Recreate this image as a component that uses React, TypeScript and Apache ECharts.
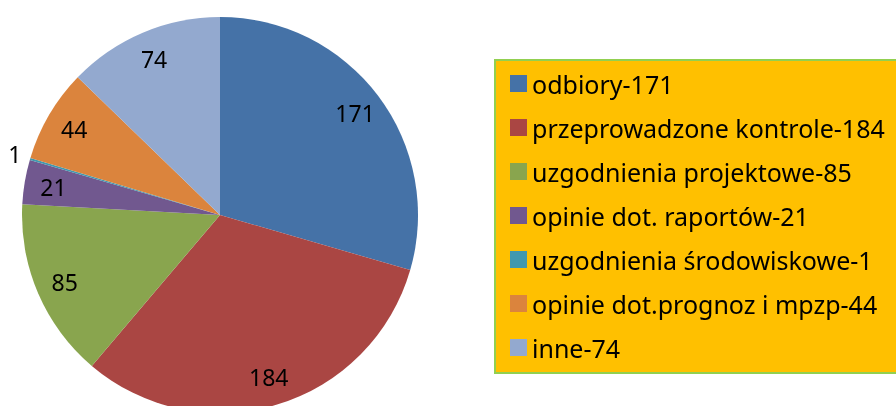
import React, { useEffect, useRef } from "react";
import * as echarts from "echarts";

const categories = [
  "odbiory",
  "przeprowadzone kontrole",
  "uzgodnienia projektowe",
  "opinie dot. raportów",
  "uzgodnienia środowiskowe",
  "opinie dot.prognoz i mpzp",
  "inne",
];
const values = [171, 184, 85, 21, 1, 44, 74];
const colors = ["#4572A7", "#AA4643", "#89A54E", "#71588F", "#4198AF", "#DB843D", "#93A9CF"];

const FONT = "'Noto Sans', sans-serif";

export default function App() {
  const ref = useRef<HTMLDivElement>(null);
  useEffect(() => {
    if (!ref.current) return;
    const chart = echarts.init(ref.current, undefined, { renderer: "svg" });
    const data = categories.map((n, i) => ({ name: n, value: values[i], itemStyle: { color: colors[i] } }));
    const center = [220, 215];
    const labelStyle = { color: "#000", fontSize: 23, fontFamily: FONT };
    chart.setOption({
      animation: false,
      graphic: [
        {
          type: "rect",
          shape: { x: 495, y: 60, width: 420, height: 313 },
          style: { fill: "#FFC000", stroke: "#92D050", lineWidth: 2 },
          z: -10,
        },
      ],
      legend: {
        orient: "vertical",
        left: 510,
        top: 70,
        padding: 0,
        itemWidth: 17,
        itemHeight: 17,
        itemGap: 17,
        itemTextGap: 6,
        icon: "rect",
        data: categories.map((n, i) => ({ name: n, itemStyle: { color: colors[i] } })),
        formatter: (name: string) => `${name}-${values[categories.indexOf(name)]}`,
        textStyle: { color: "#000", fontSize: 25, fontFamily: FONT, lineHeight: 27 },
      },
      series: [
        {
          type: "pie",
          center,
          radius: [0, 198],
          startAngle: 90,
          clockwise: true,
          data,
          label: { show: false },
          labelLine: { show: false },
          silent: true,
        },
        {
          type: "pie",
          center,
          radius: [134, 198],
          startAngle: 90,
          clockwise: true,
          data: categories.map((n, i) => ({
            name: n,
            value: values[i],
            label: { show: i !== 4 },
          })),
          itemStyle: { color: "rgba(0,0,0,0)" },
          label: { show: true, position: "inside", ...labelStyle, formatter: "{c}" },
          labelLine: { show: false },
          silent: true,
          legendHoverLink: false,
        },
        {
          type: "pie",
          center,
          radius: [196, 226],
          startAngle: 90,
          clockwise: true,
          data: categories.map((n, i) => ({
            name: n,
            value: values[i],
            label: { show: i === 4 },
          })),
          itemStyle: { color: "rgba(0,0,0,0)" },
          label: { show: true, position: "inside", ...labelStyle, formatter: "{c}" },
          labelLine: { show: false },
          silent: true,
          legendHoverLink: false,
        },
      ],
    });
    return () => chart.dispose();
  }, []);
  return <div ref={ref} style={{ position: "fixed", left: 0, top: 0, width: 896, height: 406 }} />;
}
